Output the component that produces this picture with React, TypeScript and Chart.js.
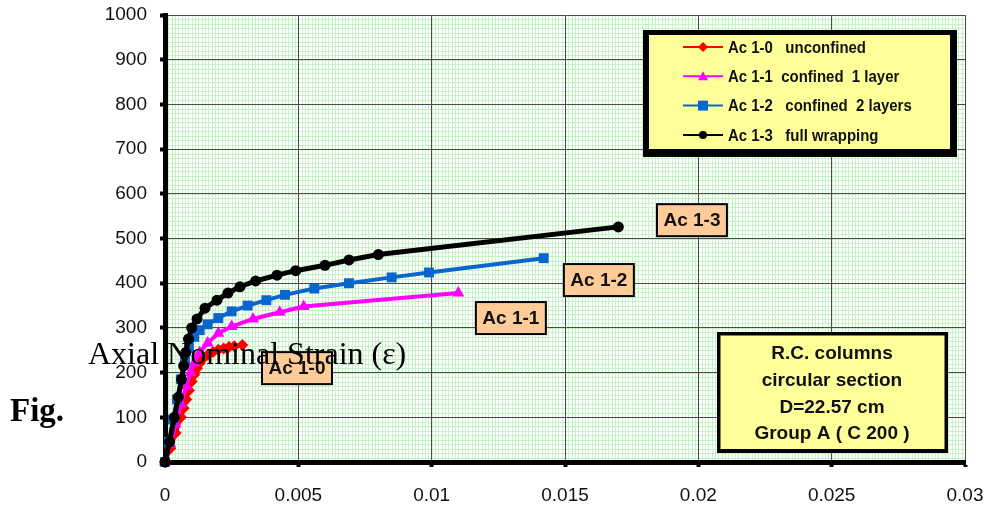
import React, { useEffect, useRef } from "react";
import { Chart, registerables } from "chart.js";

Chart.register(...registerables);

// Axis ticks
const strainTicks = [0, 0.005, 0.01, 0.015, 0.02, 0.025, 0.03];
const loadTicks = [0, 100, 200, 300, 400, 500, 600, 700, 800, 900, 1000];
const strainTickLabels = ["0", "0.005", "0.01", "0.015", "0.02", "0.025", "0.03"];

// Series: axial strain vs load
const ac10Strain = [0, 0.0002, 0.0004, 0.0006, 0.0007, 0.0008, 0.0009, 0.001, 0.0011, 0.0012, 0.0013, 0.0014, 0.0016, 0.0018, 0.002, 0.0022, 0.0024, 0.0026, 0.0029];
const ac10Load = [0, 30, 65, 100, 120, 140, 160, 180, 196, 210, 221, 230, 240, 246, 251, 254, 257, 259, 262];

const ac11Strain = [0, 0.0002, 0.0004, 0.0006, 0.0008, 0.00095, 0.0011, 0.0013, 0.0016, 0.002, 0.0025, 0.0033, 0.0043, 0.0052, 0.011];
const ac11Load = [0, 40, 85, 130, 170, 200, 222, 245, 266, 288, 303, 320, 335, 348, 378];

const ac12Strain = [0, 0.00015, 0.0003, 0.00045, 0.0006, 0.00075, 0.0009, 0.0011, 0.0013, 0.0016, 0.002, 0.0025, 0.0031, 0.0038, 0.0045, 0.0056, 0.0069, 0.0085, 0.0099, 0.0142];
const ac12Load = [0, 45, 95, 140, 185, 225, 255, 280, 295, 308, 322, 337, 350, 362, 374, 388, 400, 413, 424, 456];

const ac13Strain = [0, 0.00017, 0.00035, 0.0005, 0.00062, 0.0007, 0.00078, 0.00088, 0.001, 0.0012, 0.0015, 0.00195, 0.00236, 0.00281, 0.0034, 0.0042, 0.0049, 0.006, 0.0069, 0.008, 0.017];
const ac13Load = [0, 45, 100, 145, 185, 215, 245, 275, 300, 320, 344, 362, 378, 392, 405, 418, 428, 440, 452, 464, 526];

const seriesNames = [
  "Ac 1-0   unconfined",
  "Ac 1-1  confined  1 layer",
  "Ac 1-2   confined  2 layers",
  "Ac 1-3   full wrapping",
];
const seriesColors = ["#ff0000", "#ff00ff", "#0a66cc", "#000000"];
const seriesMarkers = ["rectRot", "triangle", "rect", "circle"];

// Curve tags, placed in data coordinates
const tagNames = ["Ac 1-0", "Ac 1-1", "Ac 1-2", "Ac 1-3"];
const tagStrain = [0.00495, 0.01297, 0.01627, 0.01976];
const tagLoad = [210, 322, 407, 541];

const noteLines = ["R.C. columns", "circular section", "D=22.57 cm", "Group A ( C 200 )"];

const minorStrainStep = 0.000125;
const minorLoadStep = 10;

const SANS = "'Liberation Sans', Arial, sans-serif";

function pairs(xs: number[], ys: number[]) {
  return xs.map((x, i) => ({ x, y: ys[i] }));
}

function drawMarker(ctx: CanvasRenderingContext2D, style: string, x: number, y: number, r: number, color: string) {
  ctx.fillStyle = color;
  ctx.beginPath();
  if (style === "circle") {
    ctx.arc(x, y, r, 0, Math.PI * 2);
  } else if (style === "rect") {
    ctx.rect(x - r, y - r, 2 * r, 2 * r);
  } else if (style === "triangle") {
    ctx.moveTo(x, y - r);
    ctx.lineTo(x + r, y + r * 0.8);
    ctx.lineTo(x - r, y + r * 0.8);
    ctx.closePath();
  } else {
    ctx.moveTo(x, y - r);
    ctx.lineTo(x + r, y);
    ctx.lineTo(x, y + r);
    ctx.lineTo(x - r, y);
    ctx.closePath();
  }
  ctx.fill();
}

const paperGrid = {
  id: "paperGrid",
  beforeDraw(chart: any) {
    const { ctx, chartArea, scales } = chart;
    const { left, right, top, bottom } = chartArea;
    ctx.save();
    ctx.fillStyle = "#ffffff";
    ctx.fillRect(left, top, right - left, bottom - top);
    ctx.strokeStyle = "#c6f3c6";
    ctx.lineWidth = 1;
    ctx.beginPath();
    const nx = Math.round(0.03 / minorStrainStep);
    for (let i = 0; i <= nx; i++) {
      const px = Math.round(scales.x.getPixelForValue(i * minorStrainStep)) + 0.5;
      ctx.moveTo(px, top);
      ctx.lineTo(px, bottom);
    }
    const ny = Math.round(1000 / minorLoadStep);
    for (let i = 0; i <= ny; i++) {
      const py = Math.round(scales.y.getPixelForValue(i * minorLoadStep)) + 0.5;
      ctx.moveTo(left, py);
      ctx.lineTo(right, py);
    }
    ctx.stroke();
    ctx.restore();
  },
};

const overlays = {
  id: "overlays",
  afterDraw(chart: any) {
    const { ctx, chartArea, scales } = chart;
    const L = chartArea.left;
    const T = chartArea.top;
    ctx.save();

    // curve tags
    ctx.font = `bold 19px ${SANS}`;
    ctx.textAlign = "center";
    ctx.textBaseline = "middle";
    tagNames.forEach((name, i) => {
      const cx = scales.x.getPixelForValue(tagStrain[i]);
      const cy = scales.y.getPixelForValue(tagLoad[i]);
      const w = 70;
      const h = 32;
      ctx.fillStyle = "#ffcc99";
      ctx.fillRect(cx - w / 2, cy - h / 2, w, h);
      ctx.strokeStyle = "#000";
      ctx.lineWidth = 2;
      ctx.strokeRect(cx - w / 2, cy - h / 2, w, h);
      ctx.fillStyle = "#111";
      ctx.fillText(name, cx, cy + 1);
    });

    // legend box with drop shadow
    const lx = L + 478;
    const ly = T + 15;
    ctx.fillStyle = "#000";
    ctx.fillRect(lx, ly, 314, 127);
    ctx.fillStyle = "#ffff99";
    ctx.fillRect(lx + 6, ly + 5, 301, 114);
    ctx.font = `bold 17px ${SANS}`;
    ctx.textAlign = "left";
    chart.data.datasets.forEach((ds: any, i: number) => {
      const ry = ly + 17 + i * 29.3;
      ctx.strokeStyle = ds.borderColor;
      ctx.lineWidth = 2;
      ctx.beginPath();
      ctx.moveTo(lx + 40, ry);
      ctx.lineTo(lx + 80, ry);
      ctx.stroke();
      drawMarker(ctx, ds.pointStyle, lx + 60, ry, ds.pointStyle === "circle" ? 4 : 5, ds.borderColor);
      ctx.fillStyle = "#111";
      ctx.save();
      ctx.translate(lx + 85, ry + 1);
      ctx.scale(0.88, 1);
      ctx.fillText(ds.label, 0, 0);
      ctx.restore();
    });

    // section note box
    const nx = L + 552;
    const ny = T + 317;
    ctx.fillStyle = "#000";
    ctx.fillRect(nx, ny, 231, 121);
    ctx.fillStyle = "#ffff99";
    ctx.fillRect(nx + 3.5, ny + 3.5, 224, 113.5);
    ctx.font = `bold 19px ${SANS}`;
    ctx.textAlign = "center";
    ctx.fillStyle = "#111";
    noteLines.forEach((line, i) => {
      ctx.fillText(line, nx + 115, ny + 22 + i * 26.7);
    });

    ctx.restore();
  },
};

export default function App() {
  const canvasRef = useRef<HTMLCanvasElement | null>(null);

  useEffect(() => {
    const canvas = canvasRef.current;
    if (!canvas) return;
    const strains = [ac10Strain, ac11Strain, ac12Strain, ac13Strain];
    const loads = [ac10Load, ac11Load, ac12Load, ac13Load];
    const radii = [6, 7, 7, 5.5];
    const widths = [4, 4, 4, 5];

    const chart = new Chart(canvas, {
      type: "line",
      data: {
        datasets: seriesNames.map((label, i) => ({
          label,
          data: pairs(strains[i], loads[i]),
          borderColor: seriesColors[i],
          backgroundColor: seriesColors[i],
          pointBackgroundColor: seriesColors[i],
          pointBorderColor: seriesColors[i],
          pointBorderWidth: 0,
          pointStyle: seriesMarkers[i] as any,
          pointRadius: radii[i],
          borderWidth: widths[i],
          tension: 0,
          fill: false,
          clip: false as any,
          order: 3 - i,
        })),
      },
      options: {
        animation: false,
        responsive: false,
        devicePixelRatio: 1,
        layout: { padding: { top: 15, right: 23, left: 0, bottom: 0 } },
        plugins: { legend: { display: false }, tooltip: { enabled: false } },
        scales: {
          x: {
            type: "linear",
            min: 0,
            max: 0.03,
            afterBuildTicks: (scale: any) => {
              scale.ticks = strainTicks.map((v) => ({ value: v }));
            },
            afterFit: (scale: any) => {
              scale.height = 58;
              scale.paddingLeft = 0;
              scale.paddingRight = 0;
            },
            border: { display: true, width: 5, color: "#000" },
            grid: { color: "#4a4a4a", lineWidth: 1, tickLength: 5, tickWidth: 4, tickColor: "#000" },
            ticks: {
              autoSkip: false,
              maxRotation: 0,
              padding: 17,
              color: "#111",
              font: { family: SANS, size: 19 },
              callback: (_v: any, idx: number) => strainTickLabels[idx],
            },
          },
          y: {
            type: "linear",
            min: 0,
            max: 1000,
            afterBuildTicks: (scale: any) => {
              scale.ticks = loadTicks.map((v) => ({ value: v }));
            },
            afterFit: (scale: any) => {
              scale.width = 165;
              scale.paddingTop = 0;
              scale.paddingBottom = 0;
            },
            border: { display: true, width: 5, color: "#000" },
            grid: { color: "#4a4a4a", lineWidth: 1, tickLength: 5, tickWidth: 4, tickColor: "#000" },
            ticks: {
              autoSkip: false,
              padding: 13,
              color: "#111",
              font: { family: SANS, size: 19 },
              callback: (v: any) => String(v),
            },
          },
        },
      },
      plugins: [paperGrid, overlays],
    });

    return () => chart.destroy();
  }, []);

  return (
    <div style={{ position: "absolute", left: 0, top: 0, width: 988, height: 501, overflow: "hidden", background: "#fff" }}>
      <canvas ref={canvasRef} width={988} height={520} style={{ display: "block", width: 988, height: 520 }} />
      <div
        style={{
          position: "absolute",
          left: 88,
          top: 337,
          fontFamily: "'Liberation Serif', 'Times New Roman', serif",
          fontSize: 32,
          lineHeight: "32px",
          color: "#000",
          whiteSpace: "nowrap",
        }}
      >
        Axial Nominal Strain (ε)
      </div>
      <div
        style={{
          position: "absolute",
          left: 10,
          top: 394,
          fontFamily: "'Liberation Serif', 'Times New Roman', serif",
          fontSize: 33,
          fontWeight: "bold",
          lineHeight: "33px",
          color: "#000",
          whiteSpace: "nowrap",
        }}
      >
        Fig.
      </div>
    </div>
  );
}
